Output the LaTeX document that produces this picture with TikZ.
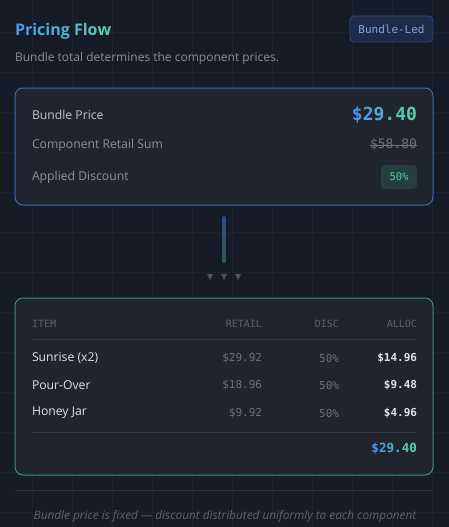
\documentclass[tikz,border=0pt]{standalone}
\usepackage{fontspec}
\setmainfont{Open Sans}
\setsansfont{Open Sans}
\setmonofont{DejaVu Sans Mono}
\usepackage{xcolor}
\usetikzlibrary{positioning, shapes.geometric}

\definecolor{bgDark}{HTML}{171B27}
\definecolor{gridLine}{HTML}{1D2130}
\definecolor{cardFill}{HTML}{20242F}
\definecolor{cardBlue}{HTML}{3C68B5}
\definecolor{cardTeal}{HTML}{3F8F74}
\definecolor{accBlue}{HTML}{4A98EA}
\definecolor{accTeal}{HTML}{5ECDAE}
\definecolor{labelLight}{HTML}{C3C6CD}
\definecolor{labelGray}{HTML}{8D9199}
\definecolor{monoGray}{HTML}{6B707A}
\definecolor{headGray}{HTML}{5B606A}
\definecolor{rowText}{HTML}{DEE1E6}
\definecolor{ruleGray}{HTML}{343946}
\definecolor{badgeFill}{HTML}{1D2B46}
\definecolor{badgeLine}{HTML}{2D4C80}
\definecolor{badgeText}{HTML}{7FA9E2}
\definecolor{discFill}{HTML}{243F3D}
\definecolor{discText}{HTML}{5DC9A2}
\definecolor{footGray}{HTML}{5F6470}

% letters shaded from blue to teal
\newcommand{\gb}[2]{{\color{accTeal!#1!accBlue}#2}}

\begin{document}
\begin{tikzpicture}[
                x=1pt, y=-1pt,
                node distance=10pt and 10pt,
                inner sep=0pt, outer sep=0pt,
                card/.style={rectangle, rounded corners=8pt, fill=cardFill, line width=1pt, minimum width=418pt},
                lbl/.style={anchor=west, font=\fontsize{12.2}{14}\selectfont, text=labelGray},
                amt/.style={anchor=east, font=\ttfamily\fontsize{11}{13}\selectfont, text=monoGray},
                head/.style={anchor=east, font=\ttfamily\fontsize{10}{12}\selectfont, text=headGray},
                item/.style={anchor=west, font=\fontsize{12.2}{14}\selectfont, text=rowText},
                alloc/.style={anchor=east, font=\ttfamily\bfseries\fontsize{11}{13}\selectfont, text=rowText},
                rule/.style={draw=ruleGray, line width=0.8pt},
                ]

        % background and faint grid
        \fill[bgDark] (0,0) rectangle (449,527);
        \useasboundingbox (0,0) rectangle (449,527);
        \foreach \g in {32,72,...,432} {
                \draw[gridLine, line width=0.6pt] (\g,0) -- (\g,527);
        }
        \foreach \g in {32,72,...,512} {
                \draw[gridLine, line width=0.6pt] (0,\g) -- (449,\g);
        }

        % header
        \node [anchor=base west, font=\bfseries\fontsize{16}{18}\selectfont] (title) at (15,36)
                {\gb{0}{P}\gb{8}{r}\gb{16}{i}\gb{24}{c}\gb{32}{i}\gb{40}{n}\gb{48}{g} \gb{62}{F}\gb{74}{l}\gb{86}{o}\gb{100}{w}};
        \node [anchor=base west, font=\fontsize{12}{14}\selectfont, text=labelGray] (subtitle) at (15,62)
                {Bundle total determines the component prices.};
        \node [rectangle, rounded corners=4pt, fill=badgeFill, draw=badgeLine, line width=0.8pt,
                minimum width=83pt, minimum height=26pt, font=\ttfamily\fontsize{11}{13}\selectfont, text=badgeText]
                (mode) at (391.5,29) {Bundle-Led};

        % bundle card
        \node [card, draw=cardBlue, minimum height=117pt] (bundleCard) at (224,146.5) {};
        \node [lbl, text=labelLight] (bundleLbl) at (32,115) {Bundle Price};
        \node [anchor=east, font=\ttfamily\bfseries\fontsize{18}{20}\selectfont] (bundleAmt) at (417,115)
                {\gb{0}{\$}\gb{20}{2}\gb{40}{9}\gb{60}{.}\gb{80}{4}\gb{100}{0}};
        \node [lbl] (retailLbl) at (32,145) {Component Retail Sum};
        \node [amt, font=\ttfamily\fontsize{13}{15}\selectfont] (retailAmt) at (417,145) {\$58.80};
        \draw [monoGray, line width=0.8pt] (retailAmt.west) -- (retailAmt.east);
        \node [lbl] (discLbl) at (32,177) {Applied Discount};
        \node [rectangle, rounded corners=4pt, fill=discFill, minimum width=36pt, minimum height=24pt,
                anchor=east, font=\ttfamily\fontsize{10.5}{12}\selectfont, text=discText] (discAmt) at (417,177) {50\%};

        % flow between the cards
        \node [rectangle, rounded corners=2pt, minimum width=4pt, minimum height=47pt,
                top color=badgeLine, bottom color=cardTeal!55!bgDark, below=11pt of bundleCard] (flowBar) {};
        \foreach \tx in {-14,0,14} {
                \fill[headGray!80!bgDark] ([xshift=\tx pt-3pt, yshift=-11pt]flowBar.south) -- ++(6,0) -- ++(-3,6) -- cycle;
        }

        % allocation card
        \node [card, draw=cardTeal, minimum height=177pt, below=35pt of flowBar] (allocCard) {};
        \node [head, anchor=west] (hItem) at (32,324) {ITEM};
        \node [head] (hRetail) at (262,324) {RETAIL};
        \node [head] (hDisc) at (339,324) {DISC};
        \node [head] (hAlloc) at (417,324) {ALLOC};
        \draw [rule] (32,339) -- (417,339);

        \node [item] (sunrise) at (32,358) {Sunrise (x2)};
        \node [amt] (sunriseRetail) at (262,358) {\$29.92};
        \node [amt] (sunriseDisc) at (339,358) {50\%};
        \node [alloc] (sunriseAlloc) at (417,358) {\$14.96};

        \node [item] (pourover) at (32,385) {Pour-Over};
        \node [amt] (pouroverRetail) at (262,385) {\$18.96};
        \node [amt] (pouroverDisc) at (339,385) {50\%};
        \node [alloc] (pouroverAlloc) at (417,385) {\$9.48};

        \node [item] (honey) at (32,413) {Honey Jar};
        \node [amt] (honeyRetail) at (262,413) {\$9.92};
        \node [amt] (honeyDisc) at (339,413) {50\%};
        \node [alloc] (honeyAlloc) at (417,413) {\$4.96};

        \draw [rule] (32,432) -- (417,432);
        \node [anchor=east, font=\ttfamily\bfseries\fontsize{12.6}{14}\selectfont] (total) at (417,449)
                {\gb{0}{\$}\gb{20}{2}\gb{40}{9}\gb{60}{.}\gb{80}{4}\gb{100}{0}};

        % footer
        \draw [draw=ruleGray!70!bgDark, line width=0.8pt] (15,490) -- (433,490);
        \node [anchor=base, font=\itshape\fontsize{11.8}{13}\selectfont, text=footGray] (footnote) at (225,519)
                {Bundle price is fixed — discount distributed uniformly to each component};

\end{tikzpicture}
\end{document}
